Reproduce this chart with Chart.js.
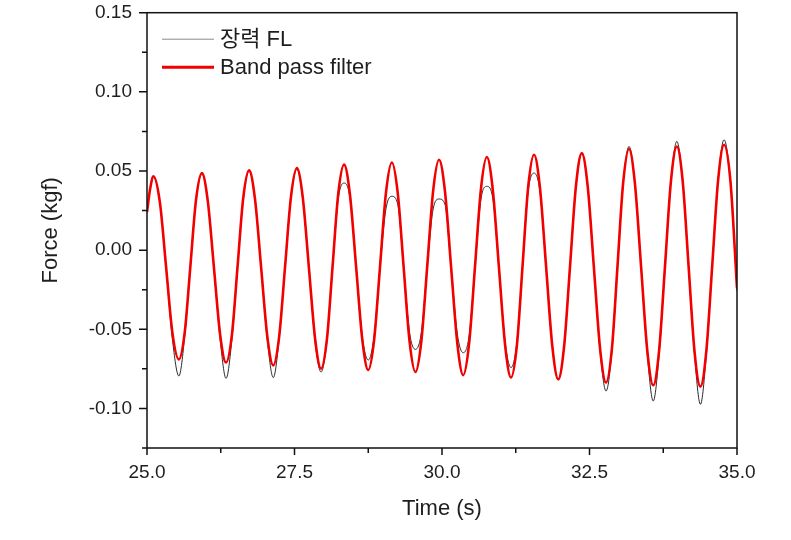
<!DOCTYPE html>
<html>
<head>
<meta charset="utf-8">
<script src="https://cdn.jsdelivr.net/npm/chart.js@4"></script>
<style>
html,body{margin:0;padding:0;background:#fff;}
#wrap{position:relative;width:791px;height:540px;}
</style>
</head>
<body>
<div id="wrap"><canvas id="c" width="791" height="540"></canvas></div>
<script>
// ---- data ----
const seriesLabels = ['장력 FL', 'Band pass filter'];
const time = [
  25.00, 25.05, 25.11,
  25.22, 25.325, 25.43, 25.54,
  25.64, 25.735, 25.83, 25.93,
  26.03, 26.135, 26.24, 26.34,
  26.44, 26.535, 26.63, 26.73,
  26.83, 26.935, 27.04, 27.14,
  27.24, 27.34, 27.44, 27.54,
  27.64, 27.745, 27.85, 27.95,
  28.05, 28.145, 28.24, 28.34,
  28.44, 28.545, 28.65, 28.75,
  28.85, 28.95, 29.05, 29.15,
  29.25, 29.35, 29.45, 29.55,
  29.65, 29.75, 29.85, 29.95,
  30.05, 30.155, 30.26, 30.36,
  30.46, 30.56, 30.66, 30.76,
  30.86, 30.965, 31.07, 31.17,
  31.27, 31.365, 31.46, 31.56,
  31.66, 31.765, 31.87, 31.97,
  32.07, 32.17, 32.27, 32.37,
  32.47, 32.575, 32.68, 32.78,
  32.88, 32.975, 33.07, 33.17,
  33.27, 33.375, 33.48, 33.58,
  33.68, 33.78, 33.88, 33.98,
  34.08, 34.18, 34.28, 34.38,
  34.48, 34.58, 34.68, 34.78,
  34.89, 35.00
];
const rawFL = [
  0.024, 0.038, 0.046,
  0.0297, -0.012, -0.056, -0.0795,
  -0.054, -0.0105, 0.031, 0.048,
  0.031, -0.0115, -0.0565, -0.081,
  -0.056, -0.0105, 0.032, 0.050,
  0.032, -0.0115, -0.057, -0.0805,
  -0.056, -0.011, 0.033, 0.051,
  0.033, -0.0115, -0.058, -0.077,
  -0.057, -0.011, 0.032, 0.0424,
  0.033, -0.011, -0.055, -0.0694,
  -0.054, -0.0105, 0.026, 0.034,
  0.029, -0.011, -0.052, -0.0627,
  -0.052, -0.0105, 0.026, 0.0323,
  0.029, -0.0115, -0.053, -0.0648,
  -0.054, -0.0105, 0.032, 0.0403,
  0.033, -0.011, -0.058, -0.0742,
  -0.058, -0.0105, 0.037, 0.0487,
  0.037, -0.011, -0.061, -0.082,
  -0.061, -0.0105, 0.040, 0.061,
  0.040, -0.0115, -0.064, -0.089,
  -0.064, -0.010, 0.042, 0.0655,
  0.042, -0.011, -0.066, -0.0953,
  -0.066, -0.010, 0.0435, 0.0687,
  0.0435, -0.0105, -0.066, -0.0974,
  -0.066, -0.010, 0.0445, 0.0697,
  0.043, -0.026
];
const bandPass = [
  0.024, 0.038, 0.0466,
  0.0297, -0.0112, -0.0521, -0.069,
  -0.0518, -0.0102, 0.0314, 0.0487,
  0.0311, -0.0112, -0.0535, -0.071,
  -0.0532, -0.0103, 0.0326, 0.0504,
  0.0324, -0.0112, -0.0548, -0.0728,
  -0.0546, -0.0105, 0.0336, 0.0519,
  0.0333, -0.0115, -0.0563, -0.0749,
  -0.056, -0.0104, 0.0351, 0.054,
  0.035, -0.0109, -0.0568, -0.0757,
  -0.0565, -0.0102, 0.0362, 0.0554,
  0.036, -0.0108, -0.0576, -0.077,
  -0.0574, -0.010, 0.0375, 0.0571,
  0.0372, -0.011, -0.059, -0.079,
  -0.0588, -0.0101, 0.0386, 0.0588,
  0.0384, -0.0109, -0.0601, -0.0805,
  -0.0599, -0.0101, 0.0397, 0.0603,
  0.0395, -0.0107, -0.0608, -0.0816,
  -0.0607, -0.0102, 0.0404, 0.0613,
  0.0401, -0.0112, -0.0625, -0.0837,
  -0.0621, -0.0099, 0.0423, 0.0639,
  0.042, -0.0108, -0.0636, -0.0854,
  -0.0633, -0.010, 0.0434, 0.0655,
  0.0433, -0.0104, -0.064, -0.0862,
  -0.0638, -0.0098, 0.0442, 0.0666,
  0.043, -0.024
];
const xTicks = [25.0, 27.5, 30.0, 32.5, 35.0];
const xMinorTicks = [26.25, 28.75, 31.25, 33.75];
const yTicks = [-0.10, -0.05, 0.00, 0.05, 0.10, 0.15];
const yMinorTicks = [-0.125, -0.075, -0.025, 0.025, 0.075, 0.125];
const xRange = [25, 35];
const yRange = [-0.125, 0.15];
const xTitle = 'Time (s)';
const yTitle = 'Force (kgf)';

const FONT = '"Liberation Sans", Arial, "Noto Sans CJK KR", sans-serif';
const TXT = '#1e1e1e';

const pts = (ys) => time.map((t, i) => ({x: t, y: ys[i]}));

const framePlugin = {
  id: 'frameTicks',
  afterDraw(chart) {
    const {ctx, chartArea: a, scales} = chart;
    const xs = scales.x, ys = scales.y;
    ctx.save();
    ctx.strokeStyle = '#111';
    ctx.lineWidth = 1.5;
    ctx.strokeRect(a.left, a.top, a.right - a.left, a.bottom - a.top);
    ctx.lineWidth = 1.5;
    ctx.beginPath();
    xTicks.forEach(v => { const p = xs.getPixelForValue(v); ctx.moveTo(p, a.bottom); ctx.lineTo(p, a.bottom + 7); });
    xMinorTicks.forEach(v => { const p = xs.getPixelForValue(v); ctx.moveTo(p, a.bottom); ctx.lineTo(p, a.bottom + 5); });
    yTicks.forEach(v => { const p = ys.getPixelForValue(v); ctx.moveTo(a.left, p); ctx.lineTo(a.left - 8, p); });
    yMinorTicks.forEach(v => { const p = ys.getPixelForValue(v); ctx.moveTo(a.left, p); ctx.lineTo(a.left - 5, p); });
    ctx.stroke();
    // legend
    const ds = chart.data.datasets;
    const lx0 = a.left + 15, lx1 = a.left + 67, tx = a.left + 73;
    const rows = [a.top + 26.5, a.top + 54.5];
    ctx.font = '22px ' + FONT;
    ctx.textBaseline = 'middle';
    ctx.textAlign = 'left';
    ds.forEach((d, i) => {
      ctx.strokeStyle = i === 0 ? '#8a8a8a' : d.borderColor;
      ctx.lineWidth = i === 0 ? 1 : 3;
      ctx.beginPath();
      ctx.moveTo(lx0, rows[i]); ctx.lineTo(lx1, rows[i]);
      ctx.stroke();
      ctx.fillStyle = TXT;
      ctx.fillText(d.label, tx, rows[i] + 1);
    });
    ctx.restore();
  }
};

new Chart(document.getElementById('c'), {
  type: 'line',
  data: {
    datasets: [
      {label: seriesLabels[0], data: pts(rawFL), borderColor: '#2a2a2a', borderWidth: 1,
       pointRadius: 0, cubicInterpolationMode: 'monotone', order: 2},
      {label: seriesLabels[1], data: pts(bandPass), borderColor: '#f20000', borderWidth: 2.6,
       pointRadius: 0, cubicInterpolationMode: 'monotone', order: 1}
    ]
  },
  options: {
    responsive: false,
    animation: false,
    events: [],
    layout: {padding: {top: 12.7, right: 54, bottom: 0, left: 0}, autoPadding: false},
    plugins: {legend: {display: false}, tooltip: {enabled: false}},
    scales: {
      x: {
        type: 'linear', min: xRange[0], max: xRange[1],
        afterBuildTicks: s => { s.ticks = xTicks.map(v => ({value: v})); },
        afterFit: s => { s.height = 92; s.paddingLeft = 0; s.paddingRight = 0; },
        grid: {display: true, drawOnChartArea: false, drawTicks: false},
        border: {display: false},
        ticks: {color: TXT, font: {family: FONT, size: 19}, padding: 13, maxRotation: 0,
                callback: v => Number(v).toFixed(1)},
        title: {display: true, text: xTitle, color: TXT, font: {family: FONT, size: 22},
                padding: {top: 0, bottom: 18}}
      },
      y: {
        type: 'linear', min: yRange[0], max: yRange[1],
        afterBuildTicks: s => { s.ticks = yTicks.map(v => ({value: v})); },
        afterFit: s => { s.width = 147; s.paddingTop = 0; s.paddingBottom = 0; },
        grid: {display: true, drawOnChartArea: false, drawTicks: false},
        border: {display: false},
        ticks: {color: TXT, font: {family: FONT, size: 19}, padding: 15,
                callback: v => Number(v).toFixed(2)},
        title: {display: true, text: yTitle, color: TXT, font: {family: FONT, size: 22},
                padding: {top: 38, bottom: 0}}
      }
    }
  },
  plugins: [framePlugin]
});
</script>
</body>
</html>
